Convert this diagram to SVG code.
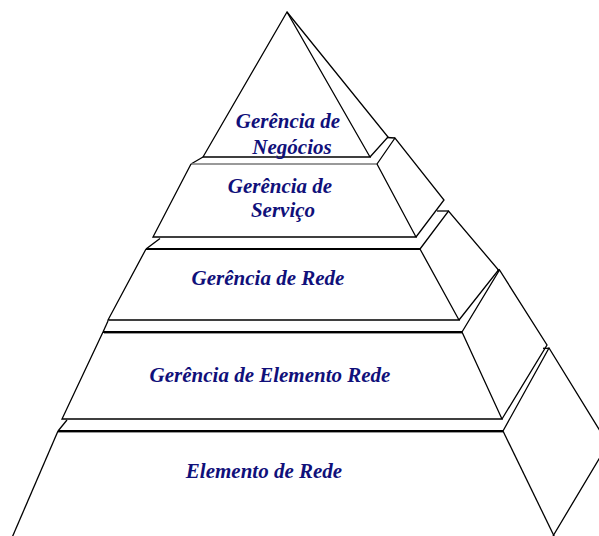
<svg xmlns="http://www.w3.org/2000/svg" width="599" height="536" viewBox="0 0 599 536">
<style>
.e{fill:none;stroke:#000;stroke-width:1.3;stroke-linejoin:miter}
.rim{fill:none;stroke:#000;stroke-width:2}
.rimg{fill:none;stroke:#999;stroke-width:1}
text{font-family:'Liberation Serif','Times New Roman',serif;font-weight:700;font-style:italic;font-size:21px;fill:#10107a;text-anchor:middle}
</style>
<rect width="599" height="536" fill="#fff"/>
<g id="tier1">
<polygon class="e" points="287,12 203,157 370,157"/>
<polyline class="e" points="287,12 388,137 370,157"/>
<text x="288" y="128">Gerência de</text>
<text x="292" y="154">Negócios</text>
</g>
<g id="tier2">
<line class="e" x1="203" y1="157" x2="191" y2="164"/>
<line class="e" x1="387" y1="137.5" x2="395" y2="138"/>
<line x1="191" y1="164" x2="377" y2="164" stroke="#777" stroke-width="1.6"/>
<polyline class="e" points="191,164 153,237 416,237 377,164"/>
<polyline class="e" points="377,164 395,138 444,200 416,237"/>
<text x="280" y="193">Gerência de</text>
<text x="283" y="217">Serviço</text>
</g>
<g id="tier3">
<line class="e" x1="146" y1="249" x2="160" y2="238.5"/>
<line class="e" x1="437" y1="211" x2="448.5" y2="211"/>
<line class="rim" x1="146" y1="249" x2="420" y2="249"/>
<polyline class="e" points="146,249 108,320 459,320 420,249"/>
<polyline class="e" points="420,249 448.5,211 498.5,270 459,320"/>
<text x="268" y="285">Gerência de Rede</text>
</g>
<g id="tier4">
<line class="e" x1="103" y1="332" x2="108" y2="321"/>
<line class="e" x1="497" y1="270" x2="499.5" y2="270"/>
<line class="rim" x1="103" y1="332" x2="462" y2="332"/>
<line class="rimg" x1="104" y1="333.5" x2="462" y2="333.5"/>
<polyline class="e" points="103,332 62,419 502,419 462,332"/>
<polyline class="e" points="462,332 499.5,270 547,345 502,419"/>
<text x="270" y="382">Gerência de Elemento Rede</text>
</g>
<g id="tier5">
<line class="e" x1="58" y1="431" x2="67" y2="420"/>
<line class="e" x1="543" y1="348.3" x2="549" y2="348.3"/>
<line class="rim" x1="58" y1="431" x2="503" y2="431"/>
<line class="rimg" x1="58" y1="432.5" x2="503" y2="432.5"/>
<polyline class="e" points="58,431 11,540"/>
<polyline class="e" points="503,431 556,540"/>
<polyline class="e" points="503,431 549,348 608,444 553,536"/>
<text x="264" y="478">Elemento de Rede</text>
</g>
</svg>
